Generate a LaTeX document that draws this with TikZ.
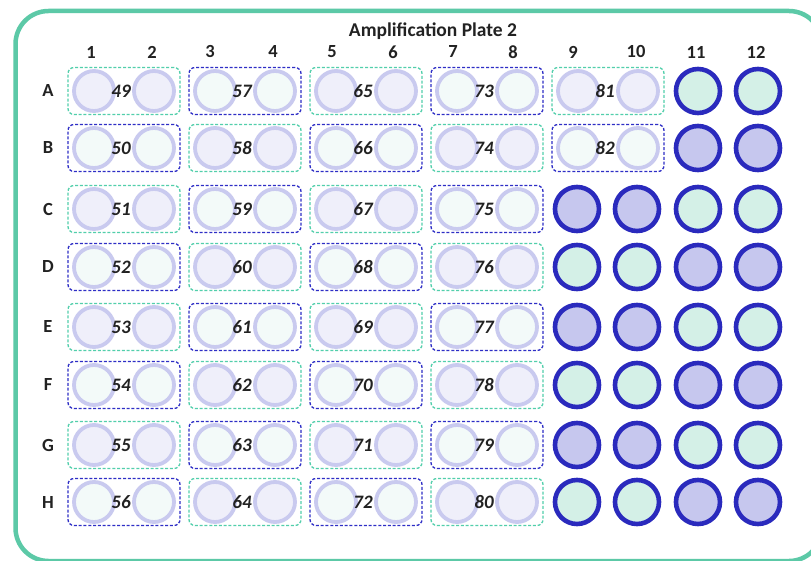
\documentclass[tikz,border=0pt]{standalone}
\usepackage{fontspec}
\setmainfont{Carlito}
\definecolor{frameteal}{HTML}{5CC9A7}
\definecolor{dteal}{HTML}{52CFAB}
\definecolor{dblue}{HTML}{2E2EC6}
\definecolor{wellring}{HTML}{C9CAEF}
\definecolor{lavlight}{HTML}{EFEFFA}
\definecolor{mintlight}{HTML}{F3FAF9}
\definecolor{ringdark}{HTML}{2A2ABD}
\definecolor{mintbig}{HTML}{D4F0E7}
\definecolor{lavbig}{HTML}{C6C7EE}
\definecolor{txt}{HTML}{222222}
\begin{document}
\begin{tikzpicture}[x=1pt,y=-1pt,
  frame/.style={draw=frameteal,line width=4.5pt,rounded corners=33pt},
  pairbox/.style={rectangle,minimum width=112pt,minimum height=47pt,inner sep=0pt,rounded corners=6pt,dashed,line width=1.3pt,dash pattern=on 3pt off 1.8pt},
  tealbox/.style={pairbox,draw=dteal},
  bluebox/.style={pairbox,draw=dblue},
  well/.style={circle,minimum size=40pt,inner sep=0pt,draw=wellring,line width=3.8pt},
  lavwell/.style={well,fill=lavlight},
  mintwell/.style={well,fill=mintlight},
  bigwell/.style={circle,minimum size=44pt,inner sep=0pt,draw=ringdark,line width=4.6pt},
  bigmint/.style={bigwell,fill=mintbig},
  biglav/.style={bigwell,fill=lavbig},
  numlab/.style={font=\fontsize{19}{21}\selectfont\bfseries\itshape,text=txt,inner sep=0pt},
  collab/.style={font=\fontsize{18.5}{21}\selectfont\bfseries,text=txt,inner sep=0pt},
  rowlab/.style={font=\fontsize{18.5}{21}\selectfont\bfseries,text=txt,inner sep=0pt},
  titlelab/.style={font=\fontsize{19.5}{22}\selectfont\bfseries,text=txt,inner sep=0pt}
]
\useasboundingbox (0,0) rectangle (811,561);
\clip (0,0) rectangle (811,561);
\fill[white] (0,0) rectangle (811,561);
\draw[frame] (15.5,11) rectangle (822,561);
\node[titlelab] (title) at (433,31) {Amplification Plate 2};
\foreach \c/\cxx in {1/91,2/152,3/210,4/273,5/332,6/393,7/453,8/513,9/573,10/636,11/696,12/756}{
  \node[collab] (col\c) at (\cxx,52) {\c};
}
\foreach \r/\ry/\rl in {0/91/A,1/148/B,2/209/C,3/267/D,4/327/E,5/385/F,6/445/G,7/502/H}{
  \node[rowlab] (row\rl) at (48,\ry) {\rl};
  \foreach \p in {0,...,4}{
    \pgfmathtruncatemacro{\skipit}{(\p==4)&&(\r>1)}
    \ifnum\skipit=0
      \pgfmathsetmacro{\cx}{124+121*\p}
      \pgfmathtruncatemacro{\parity}{mod(\r+\p,2)}
      \pgfmathtruncatemacro{\num}{49+8*\p+\r}
      \ifnum\parity=0
        \tikzset{curbox/.style={tealbox},curwell/.style={lavwell}}
      \else
        \tikzset{curbox/.style={bluebox},curwell/.style={mintwell}}
      \fi
      \node[curbox] (box\num) at (\cx,\ry) {};
      \node[curwell] (well\num a) at (\cx-30,\ry) {};
      \node[curwell] (well\num b) at (\cx+30,\ry) {};
      \node[numlab] (lab\num) at (\cx-3,\ry) {\num};
    \fi
  }
  \pgfmathtruncatemacro{\rp}{mod(\r,2)}
  \ifnum\rp=0
    \tikzset{edgewell/.style={bigmint},midwell/.style={biglav}}
  \else
    \tikzset{edgewell/.style={biglav},midwell/.style={bigmint}}
  \fi
  \node[edgewell] (big\rl11) at (698,\ry) {};
  \node[edgewell] (big\rl12) at (758,\ry) {};
  \ifnum\r>1
    \node[midwell] (big\rl9) at (577,\ry) {};
    \node[midwell] (big\rl10) at (637,\ry) {};
  \fi
}
\end{tikzpicture}
\end{document}
